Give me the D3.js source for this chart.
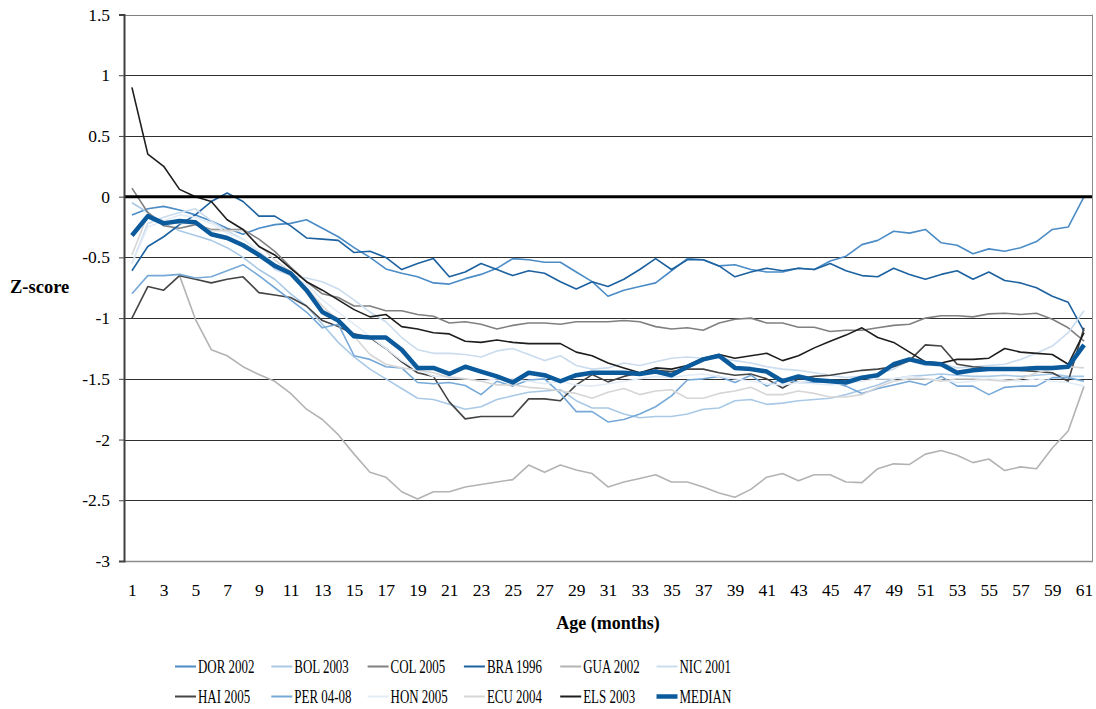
<!DOCTYPE html>
<html>
<head>
<meta charset="utf-8">
<script src="https://cdn.jsdelivr.net/npm/d3@7"></script>
<style>
  body { margin: 0; background: #fff; }
  svg { display: block; font-family: "Liberation Serif", "Times New Roman", serif; }
</style>
</head>
<body>
<svg id="chart" width="1096" height="709"></svg>
<script>
// Age in months, 1..61
const months = d3.range(1, 62)
const xTickMonths = months.filter(m => m % 2 === 1)
const yTicks = [-3, -2.5, -2, -1.5, -1, -0.5, 0, 0.5, 1, 1.5]

const seriesNames = ['DOR 2002', 'BOL 2003', 'COL 2005', 'BRA 1996', 'GUA 2002', 'NIC 2001',
  'HAI 2005', 'PER 04-08', 'HON 2005', 'ECU 2004', 'ELS 2003', 'MEDIAN']

const dor2002 = [-0.15, -0.1, -0.08, -0.11, -0.15, -0.2, -0.26, -0.31, -0.26, -0.23, -0.22, -0.19, -0.26, -0.33, -0.42, -0.5, -0.595, -0.63, -0.66, -0.71,
  -0.72, -0.675, -0.64, -0.59, -0.51, -0.52, -0.54, -0.54, -0.62, -0.7, -0.82, -0.77, -0.74, -0.71, -0.61, -0.51, -0.52, -0.57, -0.56, -0.6,
  -0.62, -0.62, -0.59, -0.6, -0.53, -0.49, -0.395, -0.36, -0.285, -0.3, -0.27, -0.38, -0.4, -0.47, -0.43, -0.45, -0.42, -0.37, -0.27, -0.25, 0.0]
const bol2003 = [-0.05, -0.13, -0.22, -0.28, -0.32, -0.36, -0.42, -0.5, -0.6, -0.68, -0.8, -0.9, -1.05, -1.2, -1.32, -1.42, -1.5, -1.58, -1.66, -1.67,
  -1.71, -1.75, -1.73, -1.67, -1.64, -1.61, -1.6, -1.59, -1.68, -1.74, -1.74, -1.79, -1.82, -1.81, -1.81, -1.79, -1.75, -1.74, -1.68, -1.67,
  -1.71, -1.7, -1.68, -1.67, -1.66, -1.63, -1.59, -1.55, -1.5, -1.48, -1.47, -1.46, -1.47, -1.48, -1.48, -1.47, -1.48, -1.47, -1.46, -1.48, -1.48]
const col2005 = [0.07, -0.13, -0.24, -0.26, -0.23, -0.27, -0.27, -0.27, -0.35, -0.45, -0.58, -0.7, -0.8, -0.83, -0.9, -0.9, -0.94, -0.94, -0.97, -0.985,
  -1.04, -1.03, -1.05, -1.09, -1.06, -1.04, -1.04, -1.05, -1.03, -1.03, -1.03, -1.02, -1.03, -1.07, -1.09, -1.08, -1.1, -1.04, -1.01, -1.0,
  -1.04, -1.04, -1.075, -1.075, -1.11, -1.1, -1.1, -1.08, -1.06, -1.05, -1.0, -0.98, -0.98, -0.99, -0.965, -0.96, -0.97, -0.96, -1.01, -1.08, -1.19]
const bra1996 = [-0.61, -0.41, -0.33, -0.23, -0.15, -0.04, 0.03, -0.04, -0.16, -0.16, -0.24, -0.34, -0.35, -0.36, -0.46, -0.45, -0.5, -0.6, -0.55, -0.51,
  -0.66, -0.62, -0.55, -0.6, -0.65, -0.61, -0.63, -0.7, -0.76, -0.7, -0.74, -0.68, -0.6, -0.51, -0.6, -0.52, -0.52, -0.57, -0.66, -0.62,
  -0.59, -0.61, -0.59, -0.6, -0.55, -0.61, -0.65, -0.66, -0.59, -0.64, -0.68, -0.64, -0.61, -0.68, -0.62, -0.69, -0.71, -0.75, -0.82, -0.87, -1.11]
const gua2002 = [null, null, null, -0.65, -1.01, -1.26, -1.31, -1.4, -1.465, -1.52, -1.62, -1.75, -1.835, -1.96, -2.12, -2.27, -2.31, -2.43, -2.49, -2.43,
  -2.43, -2.39, -2.37, -2.35, -2.33, -2.21, -2.27, -2.21, -2.25, -2.28, -2.39, -2.35, -2.32, -2.29, -2.35, -2.35, -2.39, -2.44, -2.475, -2.41,
  -2.31, -2.28, -2.34, -2.29, -2.29, -2.35, -2.355, -2.24, -2.2, -2.205, -2.12, -2.09, -2.13, -2.19, -2.16, -2.255, -2.225, -2.24, -2.07, -1.93, -1.56]
const nic2001 = [-0.55, -0.22, -0.17, -0.13, -0.1, -0.2, -0.28, -0.35, -0.45, -0.6, -0.65, -0.67, -0.7, -0.76, -0.85, -0.95, -1.03, -1.16, -1.26, -1.29,
  -1.29, -1.3, -1.32, -1.27, -1.25, -1.3, -1.35, -1.31, -1.39, -1.42, -1.41, -1.37, -1.39, -1.36, -1.33, -1.32, -1.33, -1.33, -1.35, -1.37,
  -1.4, -1.42, -1.43, -1.45, -1.47, -1.49, -1.48, -1.46, -1.42, -1.35, -1.39, -1.37, -1.41, -1.4, -1.39, -1.38, -1.34, -1.29, -1.23, -1.12, -0.94]
const hai2005 = [-1.0, -0.74, -0.77, -0.65, -0.68, -0.71, -0.68, -0.66, -0.79, -0.81, -0.83, -0.9, -1.02, -1.07, -1.13, -1.16, -1.25, -1.36, -1.45, -1.48,
  -1.69, -1.83, -1.81, -1.81, -1.81, -1.665, -1.665, -1.68, -1.55, -1.465, -1.525, -1.48, -1.45, -1.43, -1.44, -1.42, -1.42, -1.45, -1.47, -1.46,
  -1.5, -1.575, -1.5, -1.48, -1.47, -1.45, -1.43, -1.42, -1.4, -1.35, -1.22, -1.23, -1.38, -1.4, -1.41, -1.42, -1.43, -1.44, -1.45, -1.52, -1.08]
const per0408 = [-0.8, -0.65, -0.65, -0.64, -0.67, -0.66, -0.61, -0.56, -0.65, -0.75, -0.85, -0.95, -1.08, -1.05, -1.31, -1.34, -1.4, -1.41, -1.53, -1.54,
  -1.53, -1.555, -1.63, -1.52, -1.56, -1.51, -1.5, -1.62, -1.77, -1.77, -1.855, -1.835, -1.79, -1.73, -1.64, -1.51, -1.5, -1.48, -1.53, -1.47,
  -1.56, -1.5, -1.53, -1.53, -1.52, -1.56, -1.62, -1.58, -1.55, -1.52, -1.55, -1.48, -1.56, -1.56, -1.63, -1.57, -1.56, -1.56, -1.49, -1.49, -1.52]
const hon2005 = [-0.55, -0.25, -0.2, -0.15, -0.17, -0.22, -0.3, -0.35, -0.45, -0.55, -0.65, -0.72, -0.85, -0.95, -1.05, -1.15, -1.25, -1.35, -1.42, -1.48,
  -1.48, -1.5, -1.52, -1.5, -1.5, -1.52, -1.54, -1.52, -1.55, -1.56, -1.54, -1.52, -1.5, -1.48, -1.49, -1.47, -1.46, -1.48, -1.5, -1.52,
  -1.54, -1.55, -1.53, -1.54, -1.55, -1.54, -1.52, -1.5, -1.5, -1.48, -1.5, -1.51, -1.53, -1.52, -1.5, -1.51, -1.52, -1.5, -1.52, -1.53, -1.56]
const ecu2004 = [-0.48, -0.15, -0.2, -0.22, -0.22, -0.28, -0.28, -0.28, -0.4, -0.52, -0.62, -0.75, -0.9, -1.02, -1.15, -1.3, -1.38, -1.41, -1.43, -1.45,
  -1.49, -1.5, -1.52, -1.55, -1.55, -1.57, -1.58, -1.6, -1.62, -1.66, -1.61, -1.58, -1.63, -1.6, -1.59, -1.66, -1.66, -1.62, -1.6, -1.57,
  -1.63, -1.63, -1.6, -1.62, -1.65, -1.65, -1.63, -1.57, -1.52, -1.5, -1.5, -1.52, -1.5, -1.5, -1.51, -1.52, -1.5, -1.45, -1.42, -1.4, -1.41]
const els2003 = [0.9, 0.35, 0.25, 0.06, 0.0, -0.04, -0.19, -0.27, -0.41, -0.48, -0.59, -0.7, -0.77, -0.85, -0.93, -0.99, -0.97, -1.07, -1.09, -1.12,
  -1.13, -1.19, -1.2, -1.18, -1.2, -1.21, -1.21, -1.21, -1.28, -1.31, -1.37, -1.41, -1.45, -1.41, -1.42, -1.39, -1.33, -1.3, -1.33, -1.31,
  -1.29, -1.35, -1.31, -1.245, -1.19, -1.14, -1.08, -1.16, -1.2, -1.28, -1.36, -1.37, -1.34, -1.34, -1.33, -1.25, -1.28, -1.29, -1.3, -1.38, -1.12]
const median = [-0.32, -0.16, -0.22, -0.2, -0.21, -0.31, -0.34, -0.4, -0.48, -0.57, -0.63, -0.77, -0.95, -1.02, -1.15, -1.16, -1.16, -1.26, -1.41, -1.41,
  -1.46, -1.4, -1.44, -1.48, -1.53, -1.45, -1.47, -1.52, -1.47, -1.45, -1.45, -1.45, -1.46, -1.44, -1.47, -1.4, -1.34, -1.31, -1.41, -1.42,
  -1.44, -1.52, -1.48, -1.51, -1.52, -1.53, -1.49, -1.47, -1.38, -1.34, -1.37, -1.38, -1.45, -1.43, -1.42, -1.42, -1.42, -1.41, -1.41, -1.4, -1.22]

const seriesValues = [dor2002, bol2003, col2005, bra1996, gua2002, nic2001,
  hai2005, per0408, hon2005, ecu2004, els2003, median]
const seriesColors = ['#4b8cc6', '#a9c9e6', '#808080', '#1d62a0', '#b3b3b3', '#cadcee',
  '#444444', '#77a9d8', '#e3ecf6', '#d6d6d6', '#1e1e1e', '#0b5a9c']

const svg = d3.select('#chart')
const plot = { left: 124, right: 1092, top: 14.5, bottom: 561 }

const x = d3.scalePoint()
  .domain(months)
  .range([plot.left, plot.right])
  .padding(0.5)

const y = d3.scaleLinear()
  .domain([-3, 1.5])
  .range([plot.bottom, plot.top])

// horizontal gridlines
svg.append('g')
  .selectAll('line')
  .data(yTicks.filter(d => d !== 0 && d !== -3))
  .join('line')
  .attr('x1', plot.left).attr('x2', plot.right)
  .attr('y1', d => Math.round(y(d)) + 0.5).attr('y2', d => Math.round(y(d)) + 0.5)
  .attr('stroke', d => d === 1.5 ? '#808080' : '#303030')
  .attr('stroke-width', 1)

// right border
svg.append('line')
  .attr('x1', plot.right + 0.5).attr('x2', plot.right + 0.5)
  .attr('y1', y(1.5)).attr('y2', y(-3))
  .attr('stroke', '#8c8c8c')

// series lines
const line = d3.line()
  .defined(d => d.v !== null)
  .x(d => x(d.m))
  .y(d => y(d.v))

const series = seriesNames.map((name, i) => ({
  name: name,
  color: seriesColors[i],
  width: name === 'MEDIAN' ? 4.5 : 1.6,
  points: months.map((m, j) => ({ m: m, v: seriesValues[i][j] }))
}))

svg.append('g')
  .selectAll('path')
  .data(series)
  .join('path')
  .attr('fill', 'none')
  .attr('stroke', d => d.color)
  .attr('stroke-width', d => d.width)
  .attr('stroke-linejoin', 'round')
  .attr('d', d => line(d.points))

// zero line on top
svg.append('line')
  .attr('x1', plot.left).attr('x2', plot.right)
  .attr('y1', y(0)).attr('y2', y(0))
  .attr('stroke', '#000')
  .attr('stroke-width', 3)

// x axis
const xAxis = svg.append('g')
  .attr('transform', `translate(0,${Math.round(y(-3)) + 0.5})`)
  .call(d3.axisBottom(x).tickValues(xTickMonths).tickSize(0).tickPadding(22).tickSizeOuter(0))
xAxis.select('.domain')
  .attr('d', `M${plot.left},0H${plot.right + 1}`)
  .attr('stroke', '#8c8c8c').attr('stroke-width', 1.5)
xAxis.selectAll('text')
  .attr('font-size', 17.5).attr('fill', '#000')
  .attr('font-family', '"Liberation Serif", serif')

// y axis
const yAxis = svg.append('g')
  .attr('transform', `translate(${plot.left},0)`)
  .call(d3.axisLeft(y).tickValues(yTicks).tickSize(5).tickPadding(9).tickFormat(d => String(d)))
yAxis.select('.domain').attr('stroke', '#404040').attr('stroke-width', 2)
yAxis.selectAll('.tick line').attr('stroke', '#404040')
yAxis.selectAll('text')
  .attr('font-size', 17.5).attr('fill', '#000')
  .attr('font-family', '"Liberation Serif", serif')

// axis titles
svg.append('text')
  .attr('x', (plot.left + plot.right) / 2).attr('y', 629)
  .attr('text-anchor', 'middle')
  .attr('font-size', 18).attr('font-weight', 'bold')
  .text('Age (months)')

svg.append('text')
  .attr('x', 10).attr('y', 293)
  .attr('font-size', 18.5).attr('font-weight', 'bold')
  .text('Z-score')

// legend, two rows of six
const legend = svg.append('g')
  .selectAll('g')
  .data(series)
  .join('g')
  .attr('transform', (d, i) => `translate(${175 + (i % 6) * 96.3},${i < 6 ? 666.5 : 696.5})`)

legend.append('line')
  .attr('x1', 0).attr('x2', 21)
  .attr('stroke', d => d.color)
  .attr('stroke-width', d => d.name === 'MEDIAN' ? 4.5 : 2)

legend.append('text')
  .attr('transform', 'translate(23,6) scale(0.7,1)')
  .attr('font-size', 18.5)
  .text(d => d.name)
</script>
</body>
</html>
